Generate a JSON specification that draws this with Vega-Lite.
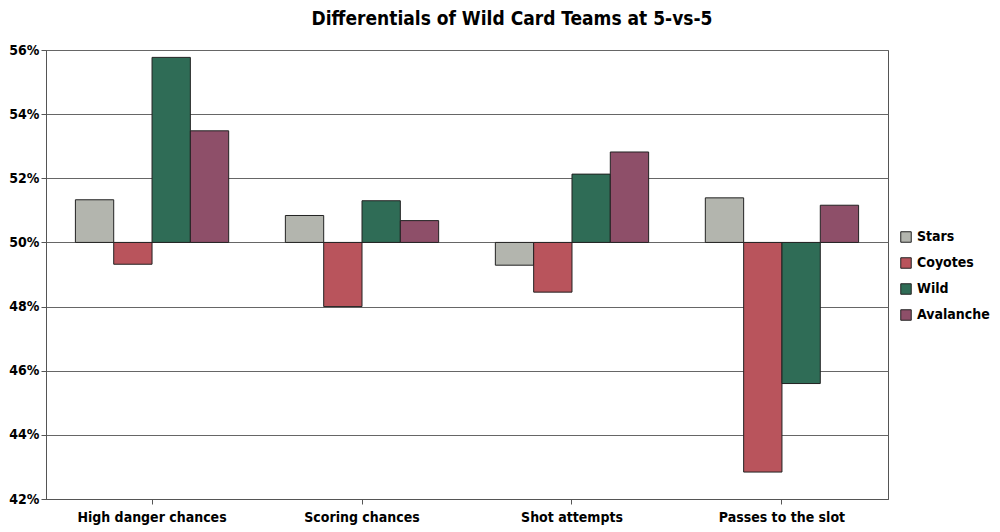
{
"$schema":"https://vega.github.io/schema/vega-lite/v6.json",
"width":1000,"height":532,
"autosize":{"type":"fit","contains":"padding"},
"padding":{"left":8,"right":112,"top":10,"bottom":8},
"background":"white",
"title":{"text":"Differentials of Wild Card Teams at 5-vs-5","font":"DejaVu Sans Condensed","fontSize":19,"fontWeight":"bold","color":"black","offset":14,"dx":45},
"config":{"view":{"stroke":"#555"},"font":"DejaVu Sans Condensed"},
"data":{"values":[
{"c":"High danger chances","t":"Stars","v":0.5133},
{"c":"High danger chances","t":"Coyotes","v":0.4932},
{"c":"High danger chances","t":"Wild","v":0.5577},
{"c":"High danger chances","t":"Avalanche","v":0.5348},
{"c":"Scoring chances","t":"Stars","v":0.5084},
{"c":"Scoring chances","t":"Coyotes","v":0.4800},
{"c":"Scoring chances","t":"Wild","v":0.5130},
{"c":"Scoring chances","t":"Avalanche","v":0.5068},
{"c":"Shot attempts","t":"Stars","v":0.4929},
{"c":"Shot attempts","t":"Coyotes","v":0.4845},
{"c":"Shot attempts","t":"Wild","v":0.5213},
{"c":"Shot attempts","t":"Avalanche","v":0.5282},
{"c":"Passes to the slot","t":"Stars","v":0.5139},
{"c":"Passes to the slot","t":"Coyotes","v":0.4284},
{"c":"Passes to the slot","t":"Wild","v":0.4560},
{"c":"Passes to the slot","t":"Avalanche","v":0.5116}
]},
"mark":{"type":"bar","stroke":"#222","strokeWidth":1},
"encoding":{
"x":{"field":"c","type":"nominal","sort":null,"title":null,"scale":{"paddingInner":0.27,"paddingOuter":0.14},
 "axis":{"labelAngle":0,"labelFontSize":14,"labelFontWeight":"bold","labelColor":"black","domainColor":"#555","tickColor":"#555","tickSize":5,"labelPadding":6}},
"xOffset":{"field":"t","type":"nominal","sort":["Stars","Coyotes","Wild","Avalanche"]},
"y":{"field":"v","type":"quantitative","title":null,"scale":{"domain":[0.42,0.56]},
 "axis":{"format":".0%","values":[0.42,0.44,0.46,0.48,0.5,0.52,0.54,0.56],"labelFontSize":14,"labelFontWeight":"bold","labelColor":"black","gridColor":"#666","domainColor":"#555","tickColor":"#555"}},
"y2":{"datum":0.5},
"color":{"field":"t","type":"nominal","sort":["Stars","Coyotes","Wild","Avalanche"],"title":null,
 "scale":{"domain":["Stars","Coyotes","Wild","Avalanche"],"range":["#b3b5ae","#b9545c","#2f6c56","#8e4f69"]},
 "legend":{"orient":"none","legendX":853,"legendY":180,"labelFontSize":14,"labelFontWeight":"bold","labelColor":"black","symbolType":"square","symbolStrokeColor":"#222","symbolStrokeWidth":1,"symbolSize":110,"rowPadding":10}}
}
}
